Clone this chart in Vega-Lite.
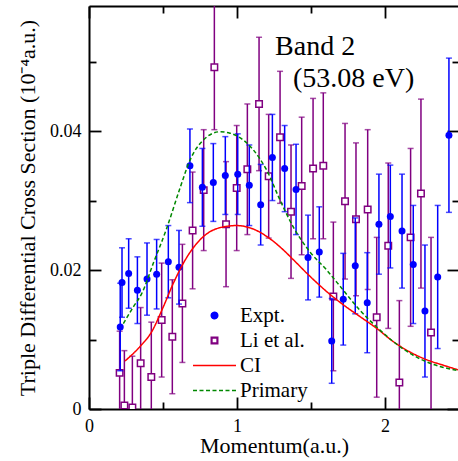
{
  "$schema": "https://vega.github.io/schema/vega-lite/v6.json",
  "width": 370,
  "height": 403,
  "autosize": "none",
  "padding": {"left": 89, "top": 6, "right": 0, "bottom": 52},
  "background": "white",
  "config": {
    "font": "Liberation Serif",
    "view": {"stroke": null},
    "axis": {
      "domainColor": "black", "domainWidth": 2, "tickColor": "black", "tickWidth": 1.8,
      "labelColor": "black", "labelFontSize": 18, "labelFont": "Liberation Serif", "labelFlush": false,
      "titleFont": "Liberation Serif", "titleFontSize": 22, "titleFontWeight": "normal", "titleColor": "black",
      "grid": false
    },
    "legend": {"labelFont": "Liberation Serif", "labelFontSize": 21, "labelColor": "black"}
  },
  "datasets": {
    "expt": [
      {"x": 0.211, "y": 0.0118, "e": 0.0063, "s": "Expt."},
      {"x": 0.223, "y": 0.0182, "e": 0.0050, "s": "Expt."},
      {"x": 0.268, "y": 0.0195, "e": 0.0050, "s": "Expt."},
      {"x": 0.327, "y": 0.0171, "e": 0.0048, "s": "Expt."},
      {"x": 0.392, "y": 0.0187, "e": 0.0052, "s": "Expt."},
      {"x": 0.457, "y": 0.0194, "e": 0.0050, "s": "Expt."},
      {"x": 0.536, "y": 0.0212, "e": 0.0052, "s": "Expt."},
      {"x": 0.608, "y": 0.0204, "e": 0.0053, "s": "Expt."},
      {"x": 0.682, "y": 0.0350, "e": 0.0053, "s": "Expt."},
      {"x": 0.766, "y": 0.0319, "e": 0.0056, "s": "Expt."},
      {"x": 0.840, "y": 0.0326, "e": 0.0056, "s": "Expt."},
      {"x": 0.921, "y": 0.0336, "e": 0.0056, "s": "Expt."},
      {"x": 1.005, "y": 0.0338, "e": 0.0058, "s": "Expt."},
      {"x": 1.083, "y": 0.0322, "e": 0.0058, "s": "Expt."},
      {"x": 1.160, "y": 0.0294, "e": 0.0058, "s": "Expt."},
      {"x": 1.239, "y": 0.0362, "e": 0.0062, "s": "Expt."},
      {"x": 1.322, "y": 0.0346, "e": 0.0062, "s": "Expt."},
      {"x": 1.399, "y": 0.0316, "e": 0.0065, "s": "Expt."},
      {"x": 1.480, "y": 0.0218, "e": 0.0061, "s": "Expt."},
      {"x": 1.556, "y": 0.0226, "e": 0.0065, "s": "Expt."},
      {"x": 1.640, "y": 0.0098, "e": 0.0061, "s": "Expt."},
      {"x": 1.718, "y": 0.0158, "e": 0.0066, "s": "Expt."},
      {"x": 1.799, "y": 0.0206, "e": 0.0069, "s": "Expt."},
      {"x": 1.880, "y": 0.0153, "e": 0.0072, "s": "Expt."},
      {"x": 1.959, "y": 0.0266, "e": 0.0072, "s": "Expt."},
      {"x": 2.036, "y": 0.0277, "e": 0.0074, "s": "Expt."},
      {"x": 2.115, "y": 0.0256, "e": 0.0082, "s": "Expt."},
      {"x": 2.191, "y": 0.0208, "e": 0.0085, "s": "Expt."},
      {"x": 2.270, "y": 0.0141, "e": 0.0095, "s": "Expt."},
      {"x": 2.356, "y": 0.0190, "e": 0.0103, "s": "Expt."},
      {"x": 2.432, "y": 0.0394, "e": 0.0111, "s": "Expt."}
    ],
    "li": [
      {"x": 0.207, "y": 0.0052, "e": 0.0060, "s": "Li et al."},
      {"x": 0.239, "y": 0.0005, "e": 0.0079, "s": "Li et al."},
      {"x": 0.293, "y": 0.0002, "e": 0.0074, "s": "Li et al."},
      {"x": 0.349, "y": 0.0066, "e": 0.0080, "s": "Li et al."},
      {"x": 0.421, "y": 0.0046, "e": 0.0079, "s": "Li et al."},
      {"x": 0.491, "y": 0.0128, "e": 0.0082, "s": "Li et al."},
      {"x": 0.563, "y": 0.0104, "e": 0.0082, "s": "Li et al."},
      {"x": 0.631, "y": 0.0152, "e": 0.0085, "s": "Li et al."},
      {"x": 0.700, "y": 0.0257, "e": 0.0084, "s": "Li et al."},
      {"x": 0.775, "y": 0.0315, "e": 0.0087, "s": "Li et al."},
      {"x": 0.847, "y": 0.0492, "e": 0.0090, "s": "Li et al."},
      {"x": 0.926, "y": 0.0266, "e": 0.0090, "s": "Li et al."},
      {"x": 0.998, "y": 0.0318, "e": 0.0090, "s": "Li et al."},
      {"x": 1.070, "y": 0.0345, "e": 0.0094, "s": "Li et al."},
      {"x": 1.149, "y": 0.0439, "e": 0.0096, "s": "Li et al."},
      {"x": 1.214, "y": 0.0335, "e": 0.0089, "s": "Li et al."},
      {"x": 1.291, "y": 0.0391, "e": 0.0095, "s": "Li et al."},
      {"x": 1.365, "y": 0.0284, "e": 0.0096, "s": "Li et al."},
      {"x": 1.437, "y": 0.0321, "e": 0.0099, "s": "Li et al."},
      {"x": 1.514, "y": 0.0346, "e": 0.0101, "s": "Li et al."},
      {"x": 1.583, "y": 0.0350, "e": 0.0105, "s": "Li et al."},
      {"x": 1.651, "y": 0.0162, "e": 0.0107, "s": "Li et al."},
      {"x": 1.730, "y": 0.0299, "e": 0.0112, "s": "Li et al."},
      {"x": 1.804, "y": 0.0273, "e": 0.0110, "s": "Li et al."},
      {"x": 1.883, "y": 0.0287, "e": 0.0115, "s": "Li et al."},
      {"x": 1.944, "y": 0.0132, "e": 0.0115, "s": "Li et al."},
      {"x": 2.022, "y": 0.0235, "e": 0.0119, "s": "Li et al."},
      {"x": 2.097, "y": 0.0038, "e": 0.0118, "s": "Li et al."},
      {"x": 2.173, "y": 0.0247, "e": 0.0128, "s": "Li et al."},
      {"x": 2.243, "y": 0.0310, "e": 0.0136, "s": "Li et al."},
      {"x": 2.311, "y": 0.0110, "e": 0.0137, "s": "Li et al."}
    ],
    "theory": [
      {"x": 0.243, "y": 0.0069, "s": "CI"},
      {"x": 0.345, "y": 0.0090, "s": "CI"},
      {"x": 0.423, "y": 0.0111, "s": "CI"},
      {"x": 0.502, "y": 0.0147, "s": "CI"},
      {"x": 0.570, "y": 0.0181, "s": "CI"},
      {"x": 0.660, "y": 0.0218, "s": "CI"},
      {"x": 0.772, "y": 0.0248, "s": "CI"},
      {"x": 0.885, "y": 0.0261, "s": "CI"},
      {"x": 0.998, "y": 0.0264, "s": "CI"},
      {"x": 1.110, "y": 0.0259, "s": "CI"},
      {"x": 1.223, "y": 0.0245, "s": "CI"},
      {"x": 1.313, "y": 0.0229, "s": "CI"},
      {"x": 1.380, "y": 0.0215, "s": "CI"},
      {"x": 1.493, "y": 0.0191, "s": "CI"},
      {"x": 1.606, "y": 0.0169, "s": "CI"},
      {"x": 1.718, "y": 0.0150, "s": "CI"},
      {"x": 1.831, "y": 0.0133, "s": "CI"},
      {"x": 1.944, "y": 0.0116, "s": "CI"},
      {"x": 2.056, "y": 0.0097, "s": "CI"},
      {"x": 2.169, "y": 0.0082, "s": "CI"},
      {"x": 2.280, "y": 0.0071, "s": "CI"},
      {"x": 2.394, "y": 0.0063, "s": "CI"},
      {"x": 2.500, "y": 0.0056, "s": "CI"},
      {"x": 0.232, "y": 0.0123, "s": "Primary"},
      {"x": 0.300, "y": 0.0147, "s": "Primary"},
      {"x": 0.356, "y": 0.0166, "s": "Primary"},
      {"x": 0.435, "y": 0.0210, "s": "Primary"},
      {"x": 0.525, "y": 0.0260, "s": "Primary"},
      {"x": 0.615, "y": 0.0318, "s": "Primary"},
      {"x": 0.682, "y": 0.0358, "s": "Primary"},
      {"x": 0.772, "y": 0.0387, "s": "Primary"},
      {"x": 0.885, "y": 0.0399, "s": "Primary"},
      {"x": 0.953, "y": 0.0397, "s": "Primary"},
      {"x": 1.043, "y": 0.0387, "s": "Primary"},
      {"x": 1.110, "y": 0.0373, "s": "Primary"},
      {"x": 1.200, "y": 0.0344, "s": "Primary"},
      {"x": 1.290, "y": 0.0301, "s": "Primary"},
      {"x": 1.380, "y": 0.0262, "s": "Primary"},
      {"x": 1.493, "y": 0.0226, "s": "Primary"},
      {"x": 1.606, "y": 0.0200, "s": "Primary"},
      {"x": 1.718, "y": 0.0171, "s": "Primary"},
      {"x": 1.831, "y": 0.0142, "s": "Primary"},
      {"x": 1.944, "y": 0.0118, "s": "Primary"},
      {"x": 2.056, "y": 0.0097, "s": "Primary"},
      {"x": 2.169, "y": 0.0080, "s": "Primary"},
      {"x": 2.280, "y": 0.0068, "s": "Primary"},
      {"x": 2.500, "y": 0.0055, "s": "Primary"}
    ]
  },
  "layer": [
    {
      "data": {"name": "li"},
      "mark": {"type": "errorbar", "ticks": {"size": 6}, "thickness": 1.5, "clip": true},
      "encoding": {
        "x": {"field": "x", "type": "quantitative", "scale": {"domain": [0, 2.5], "nice": false, "zero": false}, "axis": null},
        "y": {"field": "y", "type": "quantitative", "scale": {"domain": [0, 0.058], "nice": false, "zero": false}, "axis": null},
        "yError": {"field": "e"},
        "color": {
          "field": "s", "type": "nominal",
          "scale": {"domain": ["Expt.", "Li et al.", "CI", "Primary"], "range": ["#0000ff", "#800080", "#ff0000", "#008800"]},
          "legend": {
            "title": null, "orient": "none", "legendX": 115, "legendY": 299,
            "symbolSize": 400, "rowPadding": 3, "padding": 0, "labelOffset": 15,
            "labelFontSize": 21, "labelFont": "Liberation Serif", "labelColor": "black",
            "encode": {
              "symbols": {
                "update": {
                  "shape": {"signal": "datum.value === 'Expt.' ? 'circle' : datum.value === 'Li et al.' ? 'M-1,-1H1V1H-1Z M-0.8,-0.8V0.8H0.8V-0.8Z' : 'M-4.3,0H4.3'"},
                  "size": {"signal": "datum.value === 'Expt.' || datum.value === 'Li et al.' ? 42 : 100"},
                  "fill": {"signal": "datum.value === 'Expt.' ? '#0000ff' : datum.value === 'Li et al.' ? '#800080' : 'transparent'"},
                  "stroke": {"signal": "datum.value === 'Expt.' ? '#0000ff' : datum.value === 'Li et al.' ? '#800080' : datum.value === 'CI' ? '#ff0000' : '#008800'"},
                  "strokeWidth": {"value": 1.5},
                  "strokeDash": {"signal": "datum.value === 'Primary' ? [4, 2.5] : [1, 0]"},
                  "opacity": {"value": 1}
                }
              }
            }
          }
        }
      }
    },
    {
      "data": {"name": "li"},
      "mark": {"type": "point", "shape": "square", "filled": false, "fill": "white", "fillOpacity": 1, "size": 42, "strokeWidth": 1.5, "opacity": 1, "clip": true},
      "encoding": {
        "x": {"field": "x", "type": "quantitative", "axis": null},
        "y": {"field": "y", "type": "quantitative", "axis": null},
        "color": {"field": "s", "type": "nominal"}
      }
    },
    {
      "data": {"name": "expt"},
      "mark": {"type": "errorbar", "ticks": {"size": 6}, "thickness": 1.5, "clip": true},
      "encoding": {
        "x": {"field": "x", "type": "quantitative", "axis": null},
        "y": {"field": "y", "type": "quantitative", "axis": null},
        "yError": {"field": "e"},
        "color": {"field": "s", "type": "nominal"}
      }
    },
    {
      "data": {"name": "expt"},
      "mark": {"type": "point", "shape": "circle", "filled": true, "size": 49, "opacity": 1, "clip": true},
      "encoding": {
        "x": {"field": "x", "type": "quantitative",
          "axis": {"orient": "bottom", "values": [0, 0.5, 1, 1.5, 2, 2.5], "labelExpr": "datum.value % 1 === 0 ? format(datum.value, 'd') : ''",
            "tickSize": {"condition": {"test": "datum.value % 1 === 0", "value": -12}, "value": -7},
            "labelPadding": 20, "title": "Momentum(a.u.)", "titlePadding": 0}},
        "y": {"field": "y", "type": "quantitative",
          "axis": {"orient": "left", "values": [0, 0.01, 0.02, 0.03, 0.04, 0.05],
            "labelExpr": "datum.value === 0 ? '0' : (round(datum.value * 100) % 2 === 0 ? format(datum.value, '.2f') : '')",
            "tickSize": {"condition": {"test": "round(datum.value * 100) % 2 === 0", "value": -12}, "value": -7},
            "labelPadding": 20, "title": "Triple Differential Cross Section (10⁻⁴a.u.)", "titlePadding": 10}},
        "color": {"field": "s", "type": "nominal"}
      }
    },
    {
      "data": {"name": "theory"},
      "mark": {"type": "line", "strokeWidth": 1.5, "interpolate": "monotone", "clip": true},
      "encoding": {
        "x": {"field": "x", "type": "quantitative",
          "axis": {"orient": "top", "values": [0, 0.5, 1, 1.5, 2, 2.5], "labels": false, "title": null,
            "tickSize": {"condition": {"test": "datum.value % 1 === 0", "value": -12}, "value": -7}}},
        "y": {"field": "y", "type": "quantitative",
          "axis": {"orient": "right", "values": [0, 0.01, 0.02, 0.03, 0.04, 0.05], "labels": false, "title": null,
            "tickSize": {"condition": {"test": "round(datum.value * 100) % 2 === 0", "value": -12}, "value": -7}}},
        "color": {"field": "s", "type": "nominal"},
        "strokeDash": {"field": "s", "type": "nominal", "scale": {"domain": ["CI", "Primary"], "range": [[1, 0], [4, 2.5]]}, "legend": null}
      }
    },
    {
      "data": {"values": [{"t": "Band 2"}]},
      "mark": {"type": "text", "align": "left", "baseline": "alphabetic", "fontSize": 28, "font": "Liberation Serif", "color": "black"},
      "encoding": {
        "x": {"datum": 1.257, "type": "quantitative", "axis": null},
        "y": {"datum": 0.0509, "type": "quantitative", "axis": null},
        "text": {"field": "t"}
      }
    },
    {
      "data": {"values": [{"t": "(53.08 eV)"}]},
      "mark": {"type": "text", "align": "left", "baseline": "alphabetic", "fontSize": 28, "font": "Liberation Serif", "color": "black"},
      "encoding": {
        "x": {"datum": 1.378, "type": "quantitative", "axis": null},
        "y": {"datum": 0.0463, "type": "quantitative", "axis": null},
        "text": {"field": "t"}
      }
    }
  ],
  "resolve": {"axis": {"x": "independent", "y": "independent"}}
}
